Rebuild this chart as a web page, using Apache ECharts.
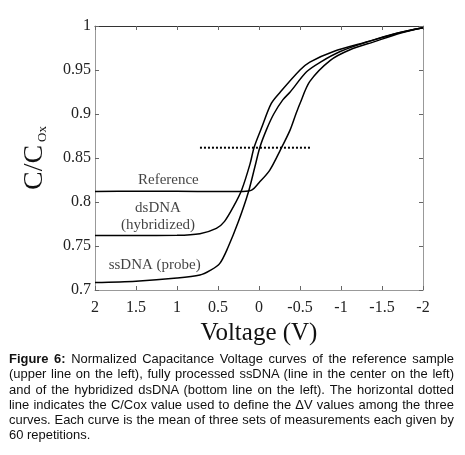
<!DOCTYPE html>
<html>
<head>
<meta charset="utf-8">
<script src="https://cdn.jsdelivr.net/npm/echarts@6/dist/echarts.min.js"></script>
<style>
  html, body { margin: 0; padding: 0; background: #fff; }
  #wrap { position: relative; width: 465px; height: 455px; }
  #main { position: absolute; left: 0; top: 0; width: 465px; height: 455px; }
  #caption {
    position: absolute; left: 9px; top: 351px; width: 445px;
    font-family: 'Liberation Sans', Arial, sans-serif; font-size: 12.95px;
    line-height: 15.3px; text-align: justify; color: #111;
  }
</style>
</head>
<body>
<div id="wrap">
  <div id="main"></div>
  <div id="caption"><b>Figure 6:</b> Normalized Capacitance Voltage curves of the reference sample (upper line on the left), fully processed ssDNA (line in the center on the left) and of the hybridized dsDNA (bottom line on the left). The horizontal dotted line indicates the C/Cox value used to define the ΔV values among the three curves. Each curve is the mean of three sets of measurements each given by 60 repetitions.</div>
</div>
<script>
// [voltage, C/Cox]
const referenceCurve = [
  [2, 0.812], [1.5, 0.8122], [1, 0.8122], [0.5, 0.8118], [0.2, 0.812], [0.09, 0.8135],
  [0.0, 0.822], [-0.13, 0.836], [-0.26, 0.859], [-0.38, 0.882], [-0.45, 0.9],
  [-0.5, 0.912], [-0.62, 0.937], [-0.87, 0.961], [-1.11, 0.973], [-1.4, 0.982],
  [-1.73, 0.992], [-2, 0.998]
]
const dsdnaCurve = [
  [2, 0.762], [1.5, 0.762], [1, 0.7622], [0.72, 0.764], [0.52, 0.77], [0.42, 0.778],
  [0.31, 0.795], [0.21, 0.814], [0.11, 0.843], [0.06, 0.862], [-0.03, 0.884],
  [-0.15, 0.912], [-0.26, 0.925], [-0.5, 0.95], [-0.62, 0.959], [-0.91, 0.971],
  [-1.32, 0.982], [-1.7, 0.992], [-2, 0.998]
]
const ssdnaCurve = [
  [2, 0.7085], [1.5, 0.71], [1, 0.7135], [0.72, 0.717], [0.6, 0.722], [0.48, 0.73],
  [0.38, 0.748], [0.25, 0.778], [0.13, 0.811], [0.05, 0.84], [-0.01, 0.862],
  [-0.09, 0.882], [-0.18, 0.9], [-0.29, 0.916], [-0.38, 0.925], [-0.58, 0.948],
  [-0.75, 0.959], [-0.99, 0.971], [-1.32, 0.982], [-1.69, 0.992], [-2, 0.998]
]
const dottedLevel = [[0.72, 0.8617], [-0.645, 0.8617]]

const curveLabels = ['Reference', 'dsDNA', '(hybridized)', 'ssDNA (probe)']
const curveLabelPos = [[1.105, 0.825], [1.232, 0.7928], [1.232, 0.7739], [1.272, 0.7284]]

const serif = "'Liberation Serif', 'DejaVu Serif', serif"
const lineColor = '#000'

const chart = echarts.init(document.getElementById('main'))

const xBase = {
  type: 'value', min: -2, max: 2, interval: 0.5, inverse: true,
  splitLine: { show: false },
  axisTick: { inside: true, length: 4, lineStyle: { color: '#666' } }
}
const yBase = {
  type: 'value', min: 0.7, max: 1, interval: 0.05,
  splitLine: { show: false },
  axisTick: { inside: true, length: 4, lineStyle: { color: '#666' } }
}

const option = {
  animation: false,
  grid: { left: 95, right: 42, top: 26, bottom: 165 },
  xAxis: [
    Object.assign({}, xBase, {
      position: 'bottom',
      axisLine: { onZero: false, lineStyle: { color: '#999' } },
      axisLabel: {
        fontFamily: serif, fontSize: 16, color: '#222', margin: 10,
        formatter: v => String(v)
      },
      name: 'Voltage (V)', nameLocation: 'middle', nameGap: 28,
      nameTextStyle: { fontFamily: serif, fontSize: 25, color: '#111' }
    }),
    Object.assign({}, xBase, {
      position: 'top',
      axisLine: { onZero: false, lineStyle: { color: '#333' } },
      axisLabel: { show: false }
    })
  ],
  yAxis: [
    Object.assign({}, yBase, {
      position: 'left',
      axisLine: { onZero: false, lineStyle: { color: '#999' } },
      axisLabel: {
        fontFamily: serif, fontSize: 16, color: '#222', margin: 4,
        formatter: v => String(+v.toFixed(2))
      },
      name: '{main|C/C} {sub|Ox}', nameLocation: 'middle', nameGap: 46, nameRotate: 90,
      nameTextStyle: {
        fontFamily: serif, color: '#111',
        rich: {
          main: { fontFamily: serif, fontSize: 28, color: '#111' },
          sub: { fontFamily: serif, fontSize: 13, color: '#111', verticalAlign: 'bottom', padding: [16, 0, 0, 0] }
        }
      }
    }),
    Object.assign({}, yBase, {
      position: 'right',
      axisLine: { onZero: false, lineStyle: { color: '#999' } },
      axisLabel: { show: false }
    })
  ],
  series: [
    {
      name: 'Reference', type: 'line', data: referenceCurve, smooth: 0.3,
      showSymbol: false, lineStyle: { color: lineColor, width: 1.5 }
    },
    {
      name: 'dsDNA', type: 'line', data: dsdnaCurve, smooth: 0.3,
      showSymbol: false, lineStyle: { color: lineColor, width: 1.5 }
    },
    {
      name: 'ssDNA', type: 'line', data: ssdnaCurve, smooth: 0.3,
      showSymbol: false, lineStyle: { color: lineColor, width: 1.5 }
    },
    {
      name: 'level', type: 'line', data: dottedLevel, showSymbol: false,
      lineStyle: { color: lineColor, width: 2, type: [2, 2] }
    },
    {
      name: 'labels', type: 'scatter', symbolSize: 0,
      data: curveLabels.map((t, i) => ({ name: t, value: curveLabelPos[i] })),
      label: {
        show: true, position: 'inside', formatter: p => p.name,
        fontFamily: serif, fontSize: 15, color: '#111'
      }
    }
  ]
}

option && chart.setOption(option)
</script>
</body>
</html>
